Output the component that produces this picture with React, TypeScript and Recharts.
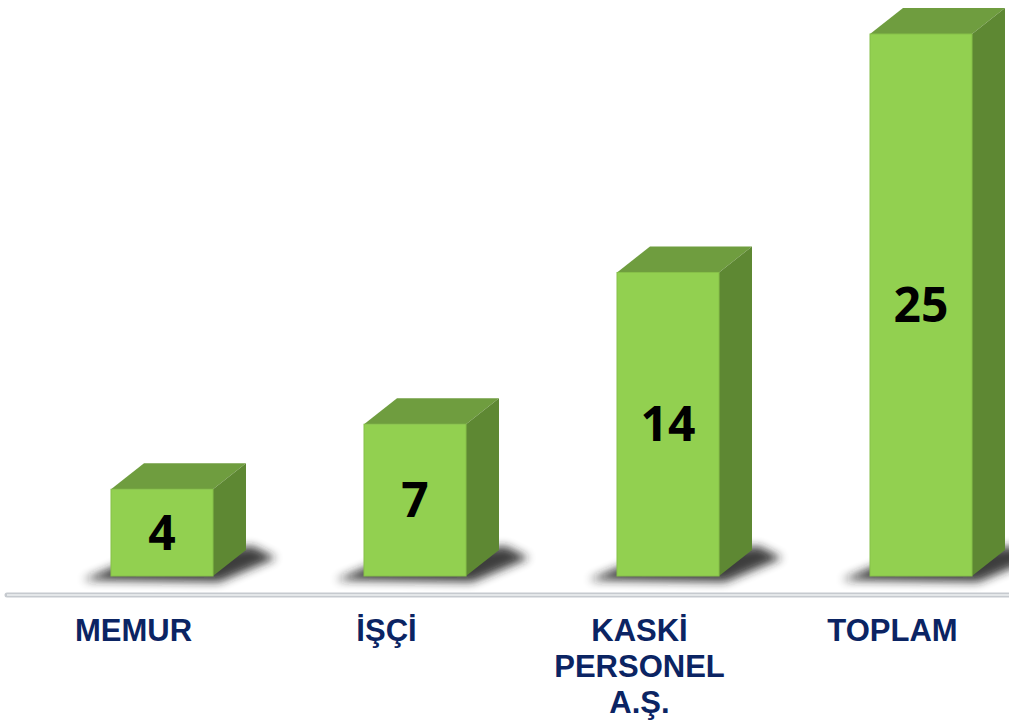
import React from 'react';
import { BarChart, Bar, XAxis, YAxis, ReferenceLine, LabelList } from 'recharts';

// categories and values
const categories = ['MEMUR', 'İŞÇİ', 'KASKİ\nPERSONEL\nA.Ş.', 'TOPLAM'];
const counts = [4, 7, 14, 25];

const data = categories.map((name, i) => ({ name, value: counts[i] }));

const FRONT = '#92D050';
const TOP = '#6F9D3F';
const SIDE = '#5E8833';
const NAVY = '#0B2463';
const DX = 33;
const DY = 26;
const BASE_LINE = -0.876; // floor line sits a little under the bars

// draws a 3D box with a soft shadow behind it
const Box3D = (props: any) => {
  const { x, y, width, height } = props;
  const base = y + height;
  const right = x + width;
  const shadow = [
    [x - 28, base + 4],
    [right + 6, base + 6],
    [right + DX + 30, base - DY + 8],
    [right + DX + 6, base - DY - 4],
    [x + 10, base - 12],
  ]
    .map((p) => p.join(','))
    .join(' ');
  return (
    <g>
      <polygon points={shadow} fill="#1e1e1e" opacity={0.85} filter="url(#boxShadow)" />
      <polygon
        points={`${x},${y} ${x + DX},${y - DY} ${right + DX},${y - DY} ${right},${y}`}
        fill={TOP}
      />
      <polygon
        points={`${right},${y} ${right + DX},${y - DY} ${right + DX},${base - DY} ${right},${base}`}
        fill={SIDE}
      />
      <rect x={x} y={y} width={width} height={height} fill={FRONT} stroke="#86c048" strokeWidth={1} />
    </g>
  );
};

const ValueLabel = (props: any) => {
  const { x, y, width, height, value } = props;
  return (
    <text
      x={x + width / 2}
      y={y + height / 2 + 17}
      textAnchor="middle"
      fontFamily="'Open Sans', sans-serif"
      fontWeight={700}
      fontSize={48}
      fill="#000"
    >
      {value}
    </text>
  );
};

const CategoryTick = (props: any) => {
  const { x, y, payload } = props;
  const lines = String(payload.value).split('\n');
  return (
    <text
      x={x - 28}
      y={y}
      textAnchor="middle"
      fontFamily="'Liberation Sans', Arial, sans-serif"
      fontWeight={700}
      fontSize={31}
      fill={NAVY}
    >
      {lines.map((line, i) => (
        <tspan key={i} x={x - 28} dy={i === 0 ? 57 : 36}>
          {line}
        </tspan>
      ))}
    </text>
  );
};

export default function App() {
  return (
    <div style={{ position: 'fixed', top: 0, left: 0, width: 1009, height: 725, overflow: 'hidden', background: '#fff' }}>
      <BarChart width={1060} height={725} data={data} margin={{ top: 34, right: 13, left: 7, bottom: 0 }}>
        <defs>
          <filter id="boxShadow" x="-30%" y="-100%" width="160%" height="300%">
            <feGaussianBlur stdDeviation="5" />
          </filter>
        </defs>
        <YAxis hide type="number" domain={[0, 25]} />
        <XAxis
          dataKey="name"
          height={149}
          interval={0}
          padding={{ left: 28, right: 0 }}
          tickLine={false}
          axisLine={false}
          tick={<CategoryTick />}
        />
        <ReferenceLine y={BASE_LINE} ifOverflow="visible" stroke="#c6cacf" strokeWidth={5} strokeLinecap="round" />
        <ReferenceLine y={BASE_LINE} ifOverflow="visible" stroke="#eef0f2" strokeWidth={1.5} />
        <Bar dataKey="value" barSize={102} shape={<Box3D />} isAnimationActive={false}>
          <LabelList dataKey="value" content={<ValueLabel />} />
        </Bar>
      </BarChart>
    </div>
  );
}
